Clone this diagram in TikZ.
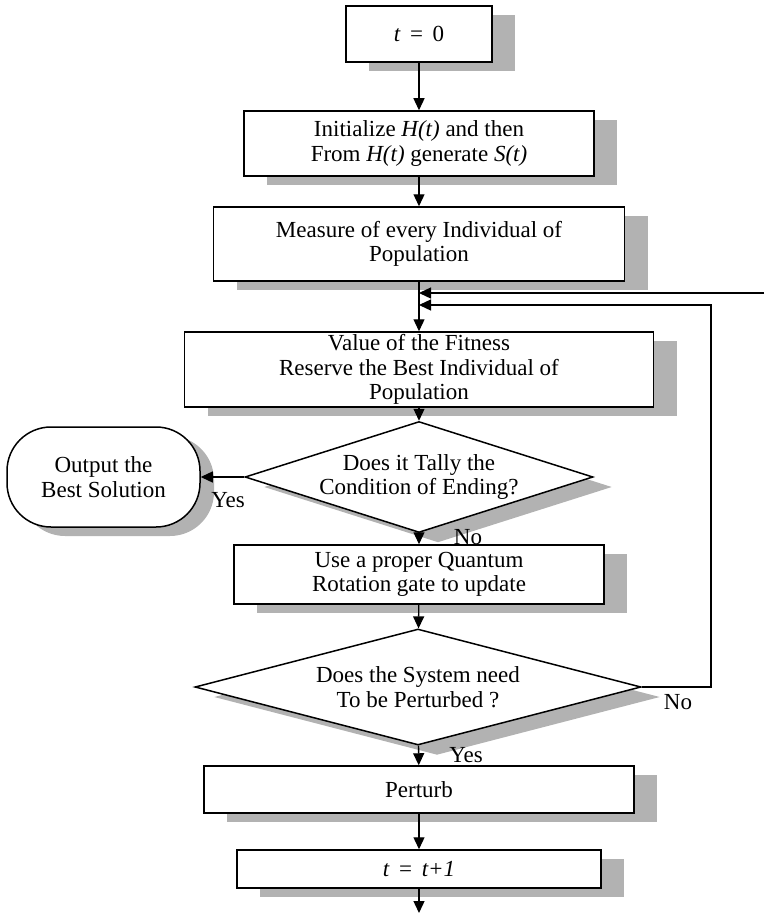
\documentclass[tikz,border=0pt]{standalone}
\usepackage{fontspec}
\setmainfont{Liberation Serif}
\usepackage{xcolor}
\usepackage{tikz}
\usetikzlibrary{shapes.geometric}
\usetikzlibrary{arrows.meta,shadows}

\definecolor{shadowgray}{RGB}{178,178,178}

\tikzset{
    txt/.style={font=\fontsize{23}{24.5}\selectfont, inner sep=0pt, align=center},
    box/.style={txt, rectangle, draw, fill=white, line width=1.5pt,
        drop shadow={shadow xshift=23pt, shadow yshift=-9pt, fill=shadowgray, opacity=1}},
    decision/.style={diamond, draw, fill=white, line width=1.5pt, inner sep=0pt,
        drop shadow={shadow xshift=19pt, shadow yshift=-10pt, fill=shadowgray, opacity=1}},
    terminal/.style={txt, rectangle, rounded corners=44pt, draw, fill=white, line width=1.5pt,
        drop shadow={shadow xshift=14pt, shadow yshift=-9pt, fill=shadowgray, opacity=1}},
    flow/.style={line width=1.3pt, -{Triangle[length=12pt,width=11pt]}}
}

\begin{document}
\begin{tikzpicture}[x=1pt, y=-1pt]
        \useasboundingbox (0,0) rectangle (764,915);

        %BOXES
        \node[box, minimum width=146pt, minimum height=56pt] (start) at (419,34) {\textit{t} \,=\, 0};
        \node[box, minimum width=350pt, minimum height=65pt] (init) at (419,143.5)
            {Initialize \textit{H(t)} and then\\From \textit{H(t)} generate \textit{S(t)}};
        \node[box, minimum width=411pt, minimum height=74pt] (measure) at (419,244)
            {Measure of every Individual of\\Population};
        \node[box, minimum width=469pt, minimum height=75pt] (fitness) at (419,369.5)
            {Value of the Fitness\\Reserve the Best Individual of\\Population};

        %ENDING
        \node[decision, minimum width=348pt, minimum height=111pt] (tally) at (419,477) {};
        \node[txt] (tallytext) at (tally.center) {Does it Tally the\\Condition of Ending?};
        \node[terminal, minimum width=193pt, minimum height=100pt] (output) at (103.5,477)
            {Output the\\Best Solution};

        %UPDATE
        \node[box, minimum width=370pt, minimum height=59pt] (rotate) at (419,574.5)
            {Use a proper Quantum\\Rotation gate to update};
        \node[decision, minimum width=446pt, minimum height=116pt] (perturbed) at (418,687) {};
        \node[txt] (perturbedtext) at (perturbed.center) {Does the System need\\To be Perturbed ?};
        \node[box, minimum width=430pt, minimum height=47pt] (perturb) at (419,789.5) {Perturb};
        \node[box, minimum width=364pt, minimum height=38pt] (next) at (419,869)
            {\textit{t} \,=\, \textit{t+1}};

        %LABELS
        \node[txt] (yesout) at (228,500) {Yes};
        \node[txt] (notally) at (468,537) {No};
        \node[txt] (noperturb) at (678,702) {No};
        \node[txt] (yesperturb) at (466,755) {Yes};

        %ARROWS
        \coordinate (stop) at (419,913);
        \coordinate (loopin) at (764,293);
        \coordinate (loopout) at (711,305);
        \draw[flow] (start) -- (init);
        \draw[flow] (init) -- (measure);
        \draw[flow] (measure) -- (fitness);
        \draw[flow] (fitness) -- (tally);
        \draw[flow] (tally) -- (output);
        \draw[flow] (tally) -- (rotate);
        \draw[flow] (rotate) -- (perturbed);
        \draw[flow] (perturbed) -- (perturb);
        \draw[flow] (perturb) -- (next);
        \draw[flow] (next) -- (stop);

        %LOOP
        \draw[flow] (loopin) -- (loopin -| measure);
        \draw[flow] (perturbed.east) -| (loopout) -- (loopout -| measure);
    \end{tikzpicture}
\end{document}
